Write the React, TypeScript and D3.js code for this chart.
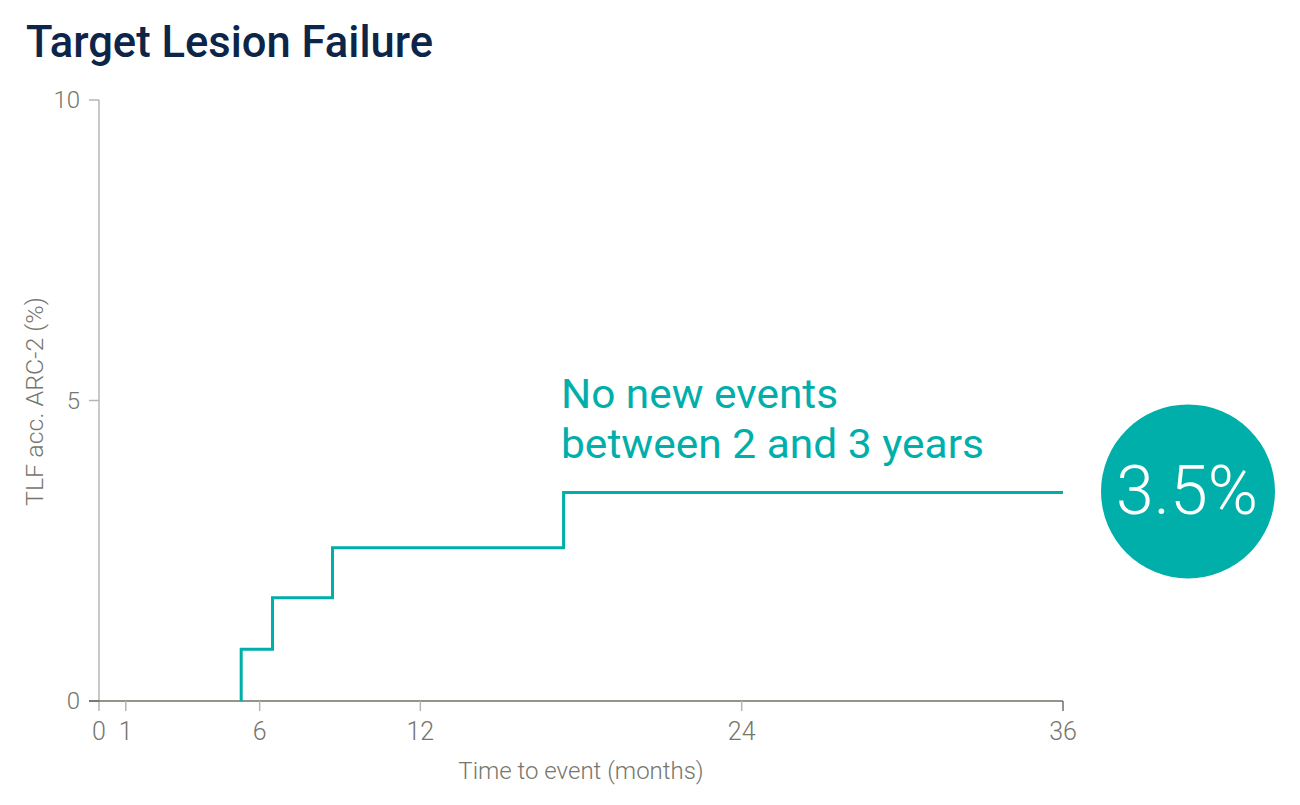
import React from 'react';
import * as d3 from 'd3';

// Kaplan-Meier style cumulative TLF (%) by month
const eventMonths = [5.31, 5.31, 6.48, 8.72, 17.35, 36];
const tlfRates = [0, 0.86, 1.72, 2.55, 3.47, 3.47];

const xTicks = [0, 1, 6, 12, 24, 36];
const yTicks = [0, 5, 10];

const title = 'Target Lesion Failure';
const yLabel = 'TLF acc. ARC-2 (%)';
const xLabel = 'Time to event (months)';
const noteLines = ['No new events', 'between 2 and 3 years'];
const finalValue = '3.5%';

const TEAL = '#00aeaa';
const NAVY = '#0c2549';
const GREY_TEXT = '#76766c';
const AXIS_DARK = '#707066';
const AXIS_LIGHT = '#b6b6b0';
const FONT = 'Roboto, "DejaVu Sans", sans-serif';

export default function App() {
  const width = 1300;
  const height = 805;

  const x = d3.scaleLinear().domain([0, 36]).range([99, 1063]);
  const y = d3.scaleLinear().domain([0, 10]).range([701, 100]);

  const points = eventMonths.map((m, i) => [m, tlfRates[i]] as [number, number]);
  const line = d3
    .line<[number, number]>()
    .x((d) => x(d[0]))
    .y((d) => y(d[1]))
    .curve(d3.curveStepAfter);

  const lastRate = tlfRates[tlfRates.length - 1];

  return (
    <div style={{ position: 'absolute', left: 0, top: 0 }}>
      <svg width={width} height={height} style={{ display: 'block' }} fontFamily={FONT}>
        <rect width={width} height={height} fill="#fff" />

        {/* Title */}
        <text x={26} y={57} fontSize={44} fontWeight={500} fill={NAVY} textLength={407} lengthAdjust="spacingAndGlyphs">
          {title}
        </text>

        {/* Y axis */}
        <line x1={x(0)} x2={x(0)} y1={y(10)} y2={711} stroke={AXIS_LIGHT} strokeWidth={1.5} />
        {yTicks.map((t) => (
          <g key={t}>
            <line x1={x(0) - 10} x2={x(0)} y1={y(t)} y2={y(t)} stroke={t === 0 ? AXIS_DARK : AXIS_LIGHT} strokeWidth={1.5} />
            <text x={x(0) - 19} y={y(t)} dy="0.35em" textAnchor="end" fontSize={24} fill={GREY_TEXT} fontWeight={300}>
              {t}
            </text>
          </g>
        ))}
        <text
          transform={`translate(43,${y(5) + 1}) rotate(-90)`}
          textAnchor="middle"
          fontSize={23}
          fontWeight={300}
          fill={GREY_TEXT}
          textLength={209}
          lengthAdjust="spacingAndGlyphs"
        >
          {yLabel}
        </text>

        {/* X axis */}
        <line x1={x(0) - 10} x2={x(36)} y1={y(0)} y2={y(0)} stroke={AXIS_DARK} strokeWidth={1.5} />
        {xTicks.map((t) => (
          <g key={t}>
            {t !== 0 && (
              <line x1={x(t)} x2={x(t)} y1={y(0)} y2={y(0) + 10} stroke={t === 36 ? AXIS_DARK : AXIS_LIGHT} strokeWidth={1.5} />
            )}
            <text x={x(t)} y={740} textAnchor="middle" fontSize={25} fontWeight={300} fill={GREY_TEXT}>
              {t}
            </text>
          </g>
        ))}
        <text x={581} y={779} textAnchor="middle" fontSize={24} fontWeight={300} fill={GREY_TEXT}>
          {xLabel}
        </text>

        {/* Step line */}
        <path d={line(points) ?? ''} fill="none" stroke={TEAL} strokeWidth={3} />

        {/* Annotation */}
        {noteLines.map((s, i) => (
          <text
            key={s}
            x={561}
            y={408 + i * 50}
            fontSize={41}
            fontWeight={400}
            fill={TEAL}
            textLength={i === 0 ? 277 : 423}
            lengthAdjust="spacingAndGlyphs"
          >
            {s}
          </text>
        ))}

        {/* Final value badge */}
        <circle cx={1188} cy={y(lastRate) - 1} r={87} fill={TEAL} />
        <text x={1187} y={y(lastRate) + 22} textAnchor="middle" fontSize={68} fontWeight={300} fill="#fff">
          {finalValue}
        </text>
      </svg>
    </div>
  );
}
